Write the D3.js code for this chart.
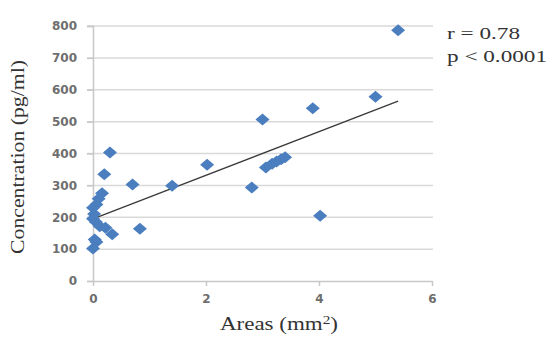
<!DOCTYPE html>
<html>
<head>
<meta charset="utf-8">
<script src="https://cdn.jsdelivr.net/npm/d3@7"></script>
<style>
body { margin: 0; background: #fff; }
svg { display: block; }
</style>
</head>
<body>
<svg id="scatter-svg"></svg>
<script>
// Areas (mm2) and concentration (pg/ml)
const areas = [5.4, 5.0, 3.89, 3.0, 3.06, 3.17, 3.25, 3.33, 3.4, 2.81, 4.02, 2.02, 1.4, 0.7, 0.83,
               0.3, 0.2, 0.16, 0.1, 0.06, 0.0, 0.02, 0.0, 0.05, 0.12, 0.22, 0.34, 0.03, 0.06, 0.0];
const concentrations = [787, 578, 542, 507, 356, 368, 375, 382, 388, 293, 205, 365, 299, 303, 164,
               403, 335, 275, 258, 240, 230, 210, 195, 185, 172, 167, 147, 130, 122, 102];
const trendX = [0, 5.4];
const trendY = [195, 564];
const xTicks = [0, 2, 4, 6];
const yTicks = [0, 100, 200, 300, 400, 500, 600, 700, 800];
const statLines = ["r = 0.78", "p < 0.0001"];

const width = 550;
const height = 337;

let svg = d3.select("#scatter-svg").attr("width", width).attr("height", height);

const x = d3.scaleLinear().domain([0, 6]).range([93, 432]);
const y = d3.scaleLinear().domain([0, 800]).range([281, 26]);

// gridlines
svg.append("g")
    .selectAll("line")
    .data(yTicks.filter(d => d > 0))
    .join("line")
    .attr("x1", 87)
    .attr("x2", 433)
    .attr("y1", d => y(d))
    .attr("y2", d => y(d))
    .attr("stroke", "#d9d9d9")
    .attr("stroke-width", 1.5);

// y axis
const yAxis = svg.append("g")
    .attr("transform", `translate(${x(0)},0)`)
    .call(d3.axisLeft(y).tickValues(yTicks).tickSize(6).tickPadding(10));
yAxis.select(".domain").attr("stroke", "#c8c8c8").attr("stroke-width", 1.5);
yAxis.selectAll(".tick line").attr("stroke", "#c8c8c8").attr("stroke-width", 1.5);
yAxis.selectAll(".tick text")
    .attr("fill", "#6e6e6e")
    .style("font-family", "DejaVu Sans")
    .style("font-weight", "bold")
    .style("font-size", "12px");

// x axis
const xAxis = svg.append("g")
    .attr("transform", `translate(0,${y(0)})`)
    .call(d3.axisBottom(x).tickValues(xTicks).tickFormat(d3.format("d")).tickSize(5).tickPadding(8).tickSizeOuter(0));
xAxis.select(".domain").attr("stroke", "#c8c8c8").attr("stroke-width", 1.5);
xAxis.selectAll(".tick line").attr("stroke", "#c8c8c8").attr("stroke-width", 1.5);
xAxis.selectAll(".tick text")
    .attr("fill", "#6e6e6e")
    .style("font-family", "DejaVu Sans")
    .style("font-weight", "bold")
    .style("font-size", "12px");

// trend line
svg.append("line")
    .attr("x1", x(trendX[0]))
    .attr("y1", y(trendY[0]))
    .attr("x2", x(trendX[1]))
    .attr("y2", y(trendY[1]))
    .attr("stroke", "#3a3a3a")
    .attr("stroke-width", 1.3);

// points
const points = areas.map((a, i) => ({ a: a, c: concentrations[i] }));
svg.append("g")
    .selectAll("path")
    .data(points)
    .join("path")
    .attr("transform", d => `translate(${x(d.a)},${y(d.c)})`)
    .attr("d", "M0,-6L7,0L0,6L-7,0Z")
    .attr("fill", "#4a7ebf");

// axis titles
svg.append("text")
    .attr("transform", "translate(24,157) rotate(-90)")
    .attr("text-anchor", "middle")
    .attr("textLength", 194)
    .attr("lengthAdjust", "spacingAndGlyphs")
    .style("font-family", "Liberation Serif")
    .style("font-size", "18px")
    .attr("fill", "#333")
    .text("Concentration (pg/ml)");

const xt = svg.append("text")
    .attr("x", 279)
    .attr("y", 330)
    .attr("text-anchor", "middle")
    .attr("textLength", 118)
    .attr("lengthAdjust", "spacingAndGlyphs")
    .style("font-family", "Liberation Serif")
    .style("font-size", "18px")
    .attr("fill", "#333");
xt.append("tspan").text("Areas (mm");
xt.append("tspan").attr("dy", -6).style("font-size", "12px").text("2");
xt.append("tspan").attr("dy", 6).text(")");

// stats
svg.append("g")
    .selectAll("text")
    .data(statLines)
    .join("text")
    .attr("x", 447)
    .attr("y", (d, i) => 39 + i * 23)
    .attr("textLength", (d, i) => i === 0 ? 73 : 100)
    .attr("lengthAdjust", "spacingAndGlyphs")
    .style("font-family", "Liberation Serif")
    .style("font-size", "17px")
    .attr("fill", "#333")
    .text(d => d);
</script>
</body>
</html>
